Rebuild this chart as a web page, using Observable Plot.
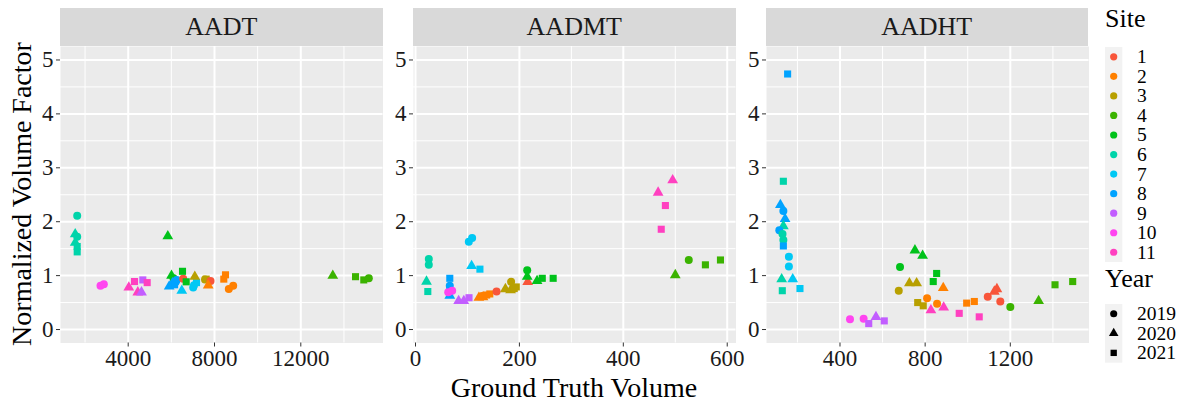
<!DOCTYPE html>
<html><head><meta charset="utf-8">
<script src="https://cdn.jsdelivr.net/npm/d3@7"></script>
<script src="https://cdn.jsdelivr.net/npm/@observablehq/plot@0.6"></script>
<style>
body{margin:0;background:#fff;}
#root{position:relative;width:1191px;height:403px;font-family:"Liberation Serif","Times New Roman",serif;overflow:hidden;background:#fff}
#root svg text{font-family:"Liberation Serif","Times New Roman",serif !important;}
.strip{position:absolute;top:8px;height:38px;background:#D9D9D9;color:#1A1A1A;font-size:26px;display:flex;align-items:center;justify-content:center}
.panel{position:absolute;top:46px}
.ytitle{position:absolute;left:22px;top:194px;transform:translate(-50%,-50%) rotate(-90deg);font-size:28px;white-space:nowrap;color:#000}
.xtitle{position:absolute;top:372px;font-size:28px;white-space:nowrap;color:#000;transform:translateX(-50%)}
.legtitle{position:absolute;left:1105px;font-size:26px;color:#000}
</style></head><body><div id="root"></div>
<script>
// ---- data ----
const sites = ["1","2","3","4","5","6","7","8","9","10","11"];
const siteColors = ["#F8553A","#FF8000","#B8A000","#3BB300","#00C21A","#00D4AA","#00C8F4","#00A3FF","#C25EFF","#FF45F0","#FF40C0"];
const years = ["2019","2020","2021"];
const yearShapes = ["circle","triangle","square"];
const facets = ["AADT","AADMT","AADHT"];
const yTicks = [0,1,2,3,4,5];
const yMinor = [0.5,1.5,2.5,3.5,4.5];

// [site, year, ground truth volume, normalized volume factor]
const aadt = [
  [6,2019,1636,2.11],[6,2020,1544,1.77],[6,2019,1636,1.72],[6,2020,1544,1.61],[6,2021,1636,1.54],[6,2021,1636,1.44],
  [10,2019,2716,0.81],[10,2019,2870,0.84],
  [11,2020,4028,0.78],[11,2021,4292,0.89],[11,2020,4445,0.69],[9,2020,4617,0.69],[9,2021,4677,0.92],[11,2021,4880,0.87],
  [5,2020,5836,1.73],[5,2020,6007,1.0],[5,2019,6100,0.95],
  [8,2020,5900,0.80],[8,2020,6050,0.86],[8,2021,6150,0.83],[8,2019,6200,0.88],[8,2019,6250,0.92],
  [1,2019,6549,0.94],[5,2021,6517,1.08],[5,2021,6688,0.885],
  [7,2020,6484,0.72],[7,2019,7013,0.78],[7,2019,7050,0.82],[7,2021,7166,0.87],
  [3,2020,7087,0.98],[3,2019,7560,0.93],[3,2021,7615,0.935],[1,2019,7815,0.90],
  [2,2020,7708,0.82],[2,2021,8510,1.015],[2,2021,8431,0.935],[2,2019,8663,0.75],[2,2019,8866,0.81],
  [4,2020,13483,1.0],[4,2021,14536,0.98],[4,2021,14920,0.92],[4,2019,15152,0.95]
];
const aadmt = [
  [6,2019,25.6,1.31],[6,2019,25.6,1.20],[6,2020,21.2,0.89],[6,2021,23.7,0.705],
  [8,2021,66,0.95],[8,2019,66,0.81],[8,2021,66,0.72],[8,2020,66,0.63],
  [10,2019,63,0.69],[10,2019,70.6,0.72],
  [9,2020,83,0.53],[9,2020,93,0.53],[9,2021,103,0.59],
  [7,2019,102.6,1.63],[7,2019,109,1.70],[7,2020,108,1.18],[7,2021,124,1.12],
  [2,2020,122,0.59],[2,2019,128,0.62],[2,2020,130,0.60],[2,2021,137,0.64],[2,2021,143,0.66],
  [1,2019,156,0.705],
  [3,2020,173,0.75],[3,2020,183,0.73],[3,2019,184,0.885],[3,2021,194,0.79],[3,2021,190,0.76],
  [1,2020,216,0.885],
  [5,2019,215,1.10],[5,2020,215,0.98],[5,2020,234,0.90],[5,2021,244,0.95],[5,2021,265,0.95],
  [11,2020,467,2.54],[11,2020,495,2.77],[11,2021,481,2.30],[11,2021,473,1.86],
  [4,2019,526,1.29],[4,2020,500,1.01],[4,2021,558,1.20],[4,2021,587,1.29]
];
const aadht = [
  [8,2021,154,4.74],[6,2021,134,2.75],[8,2020,120,2.31],[8,2019,134,2.20],[8,2020,142,2.05],
  [6,2020,134,1.92],[8,2019,115,1.84],[6,2019,130,1.77],[6,2019,134,1.66],[8,2021,134,1.55],
  [7,2019,160,1.35],[7,2019,160,1.17],[6,2020,126,0.935],[7,2020,178,0.935],[6,2021,129,0.72],[7,2021,212,0.76],
  [5,2020,752,1.47],[5,2020,788,1.37],[5,2019,682,1.16],[5,2021,854,1.04],[5,2021,838,0.89],
  [3,2020,726,0.86],[3,2020,760,0.86],[3,2019,676,0.72],[3,2021,765,0.50],[3,2021,791,0.44],
  [2,2020,885,0.77],[2,2019,809,0.58],[2,2019,856,0.48],[2,2021,995,0.49],[2,2021,1031,0.52],
  [11,2020,827,0.36],[11,2020,887,0.41],[11,2021,960,0.30],[11,2021,1054,0.235],
  [1,2019,1094,0.61],[1,2020,1125,0.705],[1,2020,1137,0.75],[1,2019,1153,0.52],
  [4,2019,1200,0.42],[4,2020,1333,0.53],[4,2021,1410,0.83],[4,2021,1493,0.89],
  [10,2019,447,0.19],[10,2019,511,0.20],
  [9,2021,535,0.11],[9,2020,569,0.235],[9,2021,608,0.16]
];
const panelData = [aadt, aadmt, aadht];
const xDomains = [[862,15810],[-3.85,616.9],[54.8,1569.6]];
const xTicks = [[4000,8000,12000],[0,200,400,600],[400,800,1200]];
const xMinor = [[2000,6000,10000,14000],[100,300,500],[200,600,1000,1400]];

// ---- layout ----
const root = document.getElementById("root");
const FONT = '"Liberation Serif","Times New Roman",serif';
const panelLefts = [60, 413, 765.5];
const PW = 322.5, PH = 296.5, ML = 40, MB = 34;
const fmt = d => String(d);

function toRows(arr){ return arr.map(d => ({site: String(d[0]), year: String(d[1]), volume: d[2], factor: d[3]})); }

facets.forEach((name, i) => {
  const strip = document.createElement("div");
  strip.className = "strip";
  strip.style.left = panelLefts[i] + "px";
  strip.style.width = PW + "px";
  strip.textContent = name;
  root.appendChild(strip);

  const chart = Plot.plot({
    width: ML + PW, height: PH + MB,
    marginLeft: ML, marginRight: 0, marginTop: 0, marginBottom: MB,
    style: {fontFamily: FONT, fontSize: "23px", color: "#1A1A1A", background: "transparent", overflow: "visible"},
    x: {domain: xDomains[i]},
    y: {domain: [-0.25, 5.25]},
    color: {type: "ordinal", domain: sites, range: siteColors},
    symbol: {domain: years, range: yearShapes},
    marks: [
      Plot.frame({fill: "#EBEBEB", stroke: null}),
      Plot.ruleX(xMinor[i], {stroke: "#fff", strokeWidth: 1}),
      Plot.ruleY(yMinor, {stroke: "#fff", strokeWidth: 1}),
      Plot.ruleX(xTicks[i], {stroke: "#fff", strokeWidth: 2}),
      Plot.ruleY(yTicks, {stroke: "#fff", strokeWidth: 2}),
      Plot.dot(toRows(panelData[i]), {x: "volume", y: "factor", fill: "site", symbol: "year", r: 4, stroke: null}),
      Plot.axisX(xTicks[i], {tickSize: 4, tickPadding: 3, label: null, stroke: "#333", fill: "#1A1A1A", fontSize: 23, tickFormat: fmt}),
      Plot.axisY(yTicks, {tickSize: 4, tickPadding: 3, label: null, stroke: "#333", fill: "#1A1A1A", fontSize: 23, tickFormat: fmt})
    ]
  });
  chart.classList.add("panel");
  chart.style.left = (panelLefts[i] - ML) + "px";
  root.appendChild(chart);
});

const yt = document.createElement("div");
yt.className = "ytitle"; yt.textContent = "Normalized Volume Factor";
root.appendChild(yt);
const xt = document.createElement("div");
xt.className = "xtitle"; xt.textContent = "Ground Truth Volume";
xt.style.left = (panelLefts[0] + (panelLefts[2] + PW - panelLefts[0]) / 2) + "px";
root.appendChild(xt);

// ---- legends ----
function legendBlock(title, titleTop, keysTop, labels, drawKey) {
  const t = document.createElement("div");
  t.className = "legtitle"; t.style.top = titleTop + "px"; t.textContent = title;
  root.appendChild(t);
  const rowH = 19.55;
  const svg = d3.create("svg").attr("width", 80).attr("height", rowH * labels.length)
    .style("position", "absolute").style("left", "1105px").style("top", keysTop + "px").style("overflow", "visible");
  svg.append("rect").attr("x", 0).attr("y", 0).attr("width", 17.3).attr("height", rowH * labels.length).attr("fill", "#F2F2F2");
  labels.forEach((lab, k) => {
    drawKey(svg, 8.7, rowH * k + rowH / 2, k);
    svg.append("text").attr("x", 32).attr("y", rowH * k + rowH / 2).attr("dy", "0.33em")
      .attr("font-size", 19.5).attr("fill", "#000").text(lab);
  });
  root.appendChild(svg.node());
}
legendBlock("Site", 4, 46.7, sites, (svg, x, y, k) => {
  svg.append("circle").attr("cx", x).attr("cy", y).attr("r", 3.6).attr("fill", siteColors[k]);
});
legendBlock("Year", 264, 304, years, (svg, x, y, k) => {
  svg.append("path").attr("transform", `translate(${x},${y})`)
    .attr("d", d3.symbol(yearShapes[k] === "circle" ? d3.symbolCircle : yearShapes[k] === "triangle" ? d3.symbolTriangle : d3.symbolSquare, 40)())
    .attr("fill", "#000");
});
</script>
</body></html>
